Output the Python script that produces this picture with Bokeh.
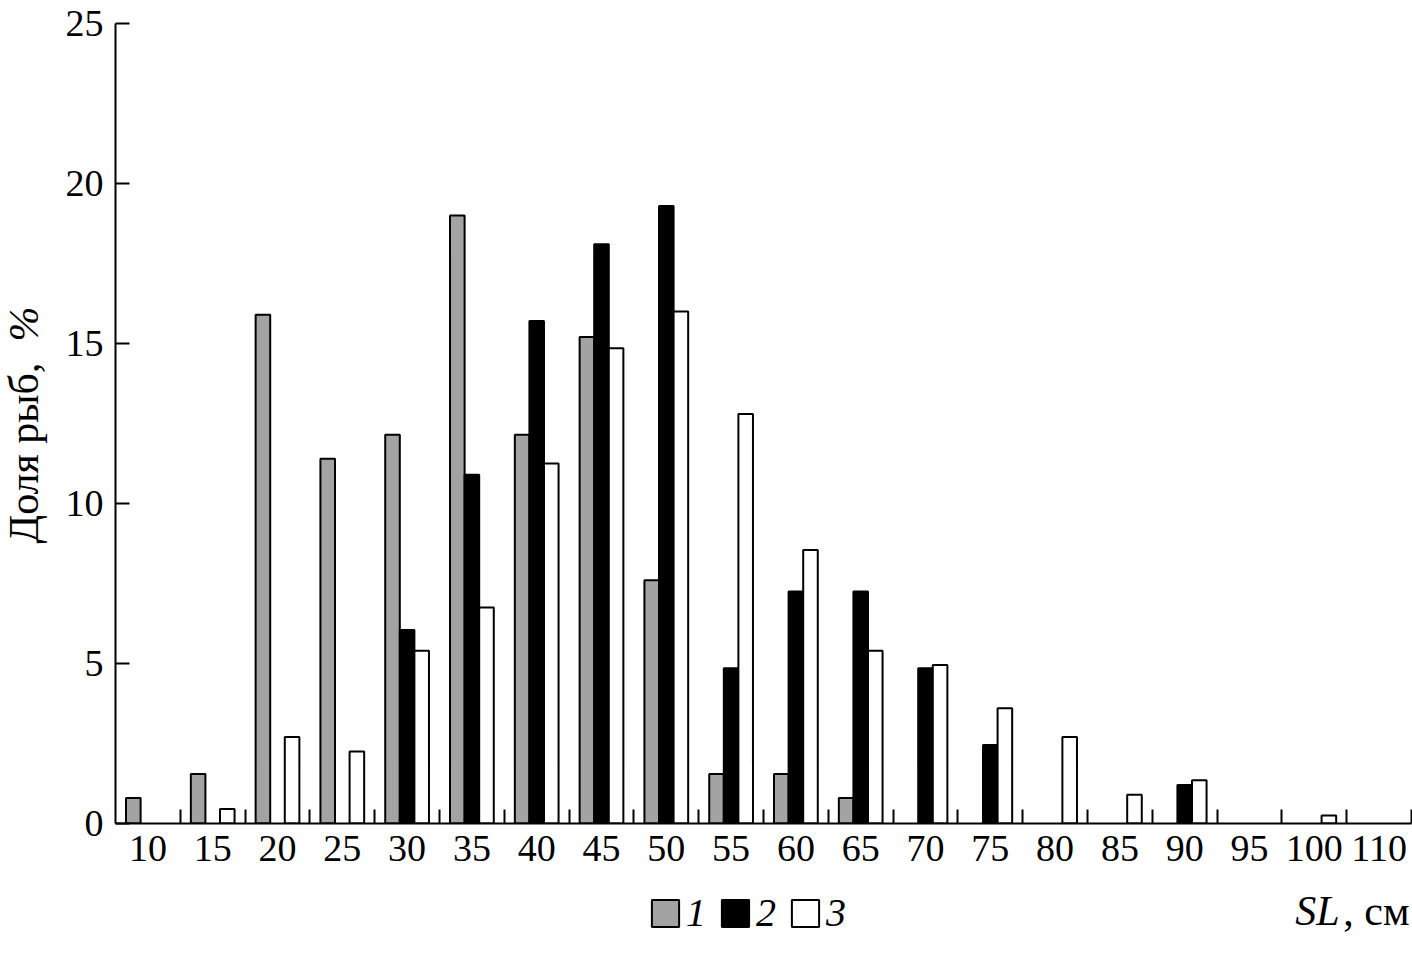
import math
from bokeh.plotting import figure
from bokeh.models import FixedTicker, Legend, LegendItem, Label
from bokeh.layouts import column, row
from bokeh.embed import file_html
from bokeh.resources import INLINE

categories = ["10", "15", "20", "25", "30", "35", "40", "45", "50", "55",
              "60", "65", "70", "75", "80", "85", "90", "95", "100", "110"]
series1 = [0.8, 1.55, 15.9, 11.4, 12.15, 19.0, 12.15, 15.2, 7.6, 1.55,
           1.55, 0.8, 0, 0, 0, 0, 0, 0, 0, 0]
series2 = [0, 0, 0, 0, 6.05, 10.9, 15.7, 18.1, 19.3, 4.85,
           7.25, 7.25, 4.85, 2.45, 0, 0, 1.2, 0, 0, 0]
series3 = [0, 0.45, 2.7, 2.25, 5.4, 6.75, 11.25, 14.85, 16.0, 12.8,
           8.55, 5.4, 4.95, 3.6, 2.7, 0.9, 1.35, 0, 0.25, 0]
series_names = ["1", "2", "3"]
y_ticks = [0, 5, 10, 15, 20, 25]

FONT = "Liberation Serif"
GRAY = "#a3a3a3"
STYLES = [dict(fill_color=GRAY, line_color="black", line_width=2),
          dict(fill_color="black", line_color="black", line_width=2),
          dict(fill_color="white", line_color="black", line_width=2)]

LEFT_W = 50
MAIN_H = 883
BOTTOM_H = 77
TOTAL_W = 1412

idx = list(range(len(categories)))
bw = 0.225

# ---------------- main chart ----------------
p = figure(frame_width=1296, frame_height=800,
           x_range=(-0.5, len(categories) - 0.5), y_range=(0, 25),
           output_backend="svg", toolbar_location=None,
           min_border_left=115 - LEFT_W, min_border_top=23, min_border_right=1,
           min_border_bottom=60, outline_line_color=None)
p.xgrid.visible = False
p.ygrid.visible = False


def keep(vals):
    xs, ys = [], []
    for i, v in zip(idx, vals):
        if v > 0:
            xs.append(i)
            ys.append(v)
    return xs, ys


x1, y1 = keep(series1)
x2, y2 = keep(series2)
x3, y3 = keep(series3)
p.vbar(x=[x - bw for x in x1], top=y1, width=bw, bottom=0, **STYLES[0])
p.vbar(x=x2, top=y2, width=bw, bottom=0, **STYLES[1])
p.vbar(x=[x + bw for x in x3], top=y3, width=bw, bottom=0, **STYLES[2])

xa = p.xaxis[0]
xa.ticker = FixedTicker(ticks=idx, minor_ticks=[i + 0.5 for i in idx])
xa.major_label_overrides = {i: c for i, c in zip(idx, categories)}
xa.major_tick_line_color = None
xa.minor_tick_in = 14
xa.minor_tick_out = 0
xa.minor_tick_line_width = 2
xa.minor_tick_line_color = "black"
xa.axis_line_width = 2
xa.axis_line_color = "black"
xa.major_label_text_font = FONT
xa.major_label_text_font_size = "38px"
xa.major_label_text_color = "black"
xa.major_label_standoff = 6

ya = p.yaxis[0]
ya.ticker = FixedTicker(ticks=y_ticks)
ya.major_tick_in = 14
ya.major_tick_out = 0
ya.major_tick_line_width = 2
ya.minor_tick_line_color = None
ya.axis_line_width = 2
ya.axis_line_color = "black"
ya.major_label_text_font = FONT
ya.major_label_text_font_size = "38px"
ya.major_label_text_color = "black"
ya.major_label_standoff = 12

# ---------------- left strip: y axis title ----------------
# frame of this strip is aligned with the main frame (bottom at y=823)
left = figure(width=LEFT_W, height=MAIN_H, x_range=(0, 1), y_range=(0, 1),
              output_backend="svg", toolbar_location=None,
              x_axis_location=None, y_axis_location=None,
              min_border=0, outline_line_color=None)
left.xgrid.visible = False
left.ygrid.visible = False
left.add_layout(Label(x=23, y=823 - 543, x_units="screen", y_units="screen",
                      text="Доля рыб, ", angle=math.pi / 2, text_align="left",
                      text_baseline="middle", text_font=FONT,
                      text_font_size="42px", text_color="black"))
left.add_layout(Label(x=23, y=823 - 306, x_units="screen", y_units="screen",
                      text="%", angle=math.pi / 2, text_align="right",
                      text_baseline="middle", text_font=FONT,
                      text_font_style="italic",
                      text_font_size="42px", text_color="black"))

# ---------------- bottom strip: legend and x title ----------------
bottom = figure(width=TOTAL_W, height=BOTTOM_H, x_range=(0, 1), y_range=(0, 1),
                output_backend="svg", toolbar_location=None,
                x_axis_location=None, y_axis_location=None,
                min_border=0, outline_line_color=None)
bottom.xgrid.visible = False
bottom.ygrid.visible = False
base_y = MAIN_H + BOTTOM_H - 926 + 16
bottom.add_layout(Label(x=1409, y=base_y, x_units="screen", y_units="screen",
                        text=", см", text_align="right", text_baseline="alphabetic",
                        text_font=FONT, text_font_size="42px", text_color="black"))
bottom.add_layout(Label(x=1339, y=base_y, x_units="screen", y_units="screen",
                        text="SL", text_align="right", text_baseline="alphabetic",
                        text_font=FONT, text_font_style="italic",
                        text_font_size="42px", text_color="black"))

# invisible legend handles, same styles as the bars
proxies = []
for s in STYLES:
    r = bottom.vbar(x=[0.5], top=[1], width=0.1, bottom=0, **s)
    r.visible = False
    proxies.append(r)
legend = Legend(items=[LegendItem(label=n, renderers=[r])
                       for n, r in zip(series_names, proxies)],
                orientation="horizontal", click_policy="none",
                location=(648, MAIN_H + BOTTOM_H - 913 - 23),
                glyph_width=34, glyph_height=34, label_standoff=4,
                spacing=12, padding=0, margin=0,
                label_text_font=FONT, label_text_font_style="italic",
                label_text_font_size="40px", label_text_color="black",
                label_height=34,
                border_line_color=None, background_fill_alpha=0)
bottom.add_layout(legend)

layout = column(row(left, p), bottom)
open("out.html", "w").write(file_html(layout, INLINE))
